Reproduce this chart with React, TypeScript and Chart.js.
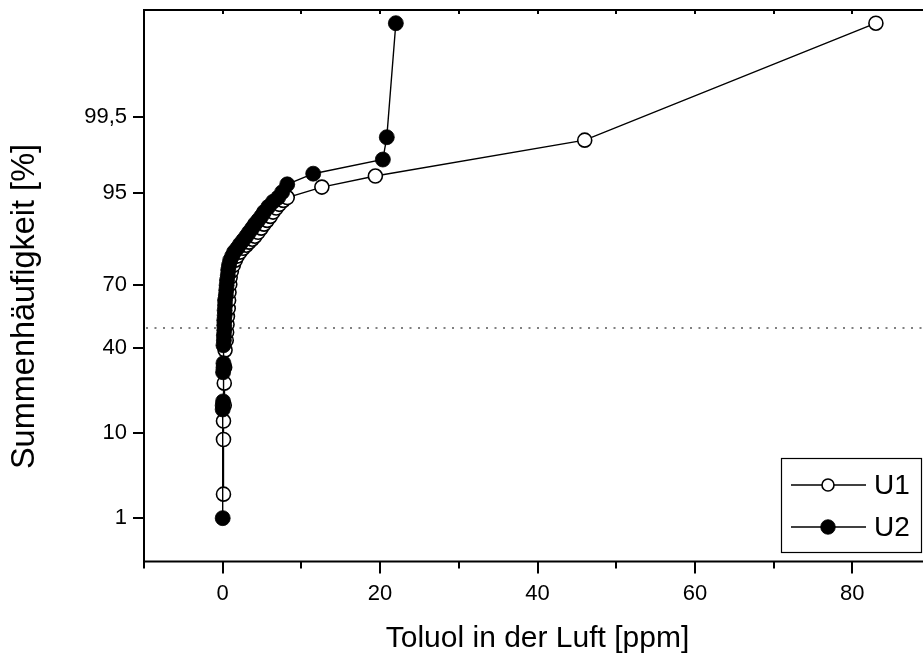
import React, { useEffect, useRef } from 'react';
import { Chart, registerables } from 'chart.js';

Chart.register(...registerables);

// ---- data ----
const u1Ppm = [
  0.1, 0.1, 0.1, 0.2, 0.2, 0.25, 0.3, 0.45, 0.5, 0.55, 0.6, 0.7, 0.75, 0.8, 0.9, 0.95,
  1.1, 1.35, 1.6, 1.85, 2.2, 2.6, 3.0, 3.35, 3.75, 4.1, 4.5, 4.9, 5.25, 5.65, 6.05, 6.4,
  6.8, 7.2, 7.7, 8.2, 12.6, 19.4, 46.0, 83.0,
];
const u1Pct = [
  2.1, 8.6, 12.7, 17.2, 24.9, 31.4, 39.2, 43.9, 47.8, 51.6, 55.4, 59.3, 63.1, 66.7, 70.2, 73.1,
  75.5, 77.7, 79.5, 80.9, 82.2, 83.4, 84.3, 85.2, 86.0, 86.8, 87.8, 88.8, 89.7, 90.5, 91.3, 92.1,
  92.8, 93.4, 94.0, 94.4, 95.7, 96.8, 98.9, 99.99,
];
const u2Ppm = [
  0.0, 0.0, 0.0, 0.05, 0.05, 0.1, 0.1, 0.1, 0.15, 0.15, 0.2, 0.2, 0.2, 0.25, 0.25, 0.3,
  0.3, 0.4, 0.45, 0.5, 0.55, 0.65, 0.7, 0.8, 0.95, 1.2, 1.45, 1.85, 2.2, 2.6, 3.0, 3.35,
  3.75, 4.1, 4.5, 4.9, 5.25, 5.8, 6.4, 7.05, 7.55, 8.2, 11.5, 20.35, 20.85, 22.0,
];
const u2Pct = [
  1.0, 15.9, 17.1, 18.4, 29.3, 31.2, 33.2, 41.5, 43.9, 46.3, 48.7, 51.2, 53.6, 56.0, 58.4, 60.8,
  63.1, 65.4, 67.6, 69.8, 71.9, 73.9, 75.9, 77.7, 79.5, 80.9, 82.2, 83.4, 84.6, 85.7, 86.8, 87.8,
  88.8, 89.7, 90.5, 91.3, 92.1, 93.0, 93.8, 94.4, 95.1, 96.0, 97.0, 98.0, 99.0, 99.99,
];
const seriesNames = ['U1', 'U2'];

const yTickPct = [1, 10, 40, 70, 95, 99.5];
const yTickLabels = ['1', '10', '40', '70', '95', '99,5'];
const xTickValues = [-10, 0, 10, 20, 30, 40, 50, 60, 70, 80, 90];
const xLabelledTicks = [0, 20, 40, 60, 80];
const X_MIN = -10;
const X_MAX = 90;
const Y_MIN_PCT = 0.2145;
const Y_MAX_PCT = 99.99478;
const REF_LINE_PCT = 50;
const xTitle = 'Toluol in der Luft [ppm]';
const yTitle = 'Summenhäufigkeit [%]';

// ---- layout constants ----
const CANVAS_W = 960;
const CANVAS_H = 657;
const PLOT_LEFT = 144;
const PLOT_TOP = 10;
const PLOT_RIGHT = 931;
const PLOT_BOTTOM = 561.5;
const FONT = "'Liberation Sans', Arial, sans-serif";

// inverse of the standard normal CDF (probability scale), Acklam's approximation
function probit(pct: number): number {
  const p = pct / 100;
  const a = [-3.969683028665376e1, 2.209460984245205e2, -2.759285104469687e2, 1.38357751867269e2, -3.066479806614716e1, 2.506628277459239];
  const b = [-5.447609879822406e1, 1.615858368580409e2, -1.556989798598866e2, 6.680131188771972e1, -1.328068155288572e1];
  const c = [-7.784894002430293e-3, -3.223964580411365e-1, -2.400758277161838, -2.549732539343734, 4.374664141464968, 2.938163982698783];
  const d = [7.784695709041462e-3, 3.224671290700398e-1, 2.445134137142996, 3.754408661907416];
  const plow = 0.02425;
  const phigh = 1 - plow;
  if (p < plow) {
    const q = Math.sqrt(-2 * Math.log(p));
    return (((((c[0] * q + c[1]) * q + c[2]) * q + c[3]) * q + c[4]) * q + c[5]) /
      ((((d[0] * q + d[1]) * q + d[2]) * q + d[3]) * q + 1);
  }
  if (p <= phigh) {
    const q = p - 0.5;
    const r = q * q;
    return ((((((a[0] * r + a[1]) * r + a[2]) * r + a[3]) * r + a[4]) * r + a[5]) * q) /
      (((((b[0] * r + b[1]) * r + b[2]) * r + b[3]) * r + b[4]) * r + 1);
  }
  const q = Math.sqrt(-2 * Math.log(1 - p));
  return -(((((c[0] * q + c[1]) * q + c[2]) * q + c[3]) * q + c[4]) * q + c[5]) /
    ((((d[0] * q + d[1]) * q + d[2]) * q + d[3]) * q + 1);
}

const framePlugin = {
  id: 'originFrame',
  beforeDatasetsDraw(chart: any) {
    const { ctx, chartArea, scales } = chart;
    const y = Math.round(scales.y.getPixelForValue(probit(REF_LINE_PCT)));
    ctx.save();
    ctx.strokeStyle = '#808080';
    ctx.lineWidth = 2;
    ctx.setLineDash([2, 6.5]);
    ctx.beginPath();
    ctx.moveTo(chartArea.left + 2, y);
    ctx.lineTo(chartArea.right, y);
    ctx.stroke();
    ctx.restore();
  },
  afterDraw(chart: any) {
    const { ctx, chartArea, scales } = chart;
    const { left, top, right, bottom } = chartArea;
    ctx.save();
    ctx.strokeStyle = '#000';
    ctx.lineWidth = 2;
    ctx.setLineDash([]);
    ctx.beginPath();
    ctx.moveTo(left, top - 1);
    ctx.lineTo(left, bottom + 1);
    ctx.moveTo(left - 1, top);
    ctx.lineTo(right, top);
    ctx.moveTo(left - 1, bottom);
    ctx.lineTo(right, bottom);
    ctx.moveTo(right, top);
    ctx.lineTo(right, bottom);
    ctx.stroke();

    // x ticks: outward at the bottom, inward at the top
    ctx.lineWidth = 2;
    ctx.beginPath();
    for (const v of xTickValues) {
      const px = Math.round(scales.x.getPixelForValue(v));
      const len = xLabelledTicks.includes(v) ? 12 : 7;
      ctx.moveTo(px, bottom);
      ctx.lineTo(px, bottom + len);
      ctx.moveTo(px, top);
      ctx.lineTo(px, top + 4);
    }
    // y ticks: outward at the left
    for (const p of yTickPct) {
      const py = Math.round(scales.y.getPixelForValue(probit(p)));
      ctx.moveTo(left, py);
      ctx.lineTo(left - 11, py);
    }
    ctx.stroke();

    // y axis title
    ctx.fillStyle = '#000';
    ctx.font = `32.5px ${FONT}`;
    ctx.textAlign = 'center';
    ctx.textBaseline = 'middle';
    ctx.translate(25, 306.5);
    ctx.rotate(-Math.PI / 2);
    ctx.fillText(yTitle, 0, 0);
    ctx.restore();

    // legend box
    ctx.save();
    const bx = 781.5, by = 458.5, bw = 140, bh = 94;
    ctx.strokeStyle = '#000';
    ctx.lineWidth = 1.2;
    ctx.strokeRect(bx, by, bw, bh);
    const rows = [485, 527];
    chart.data.datasets.forEach((ds: any, i: number) => {
      const ry = rows[i];
      ctx.lineWidth = ds.borderWidth;
      ctx.strokeStyle = ds.borderColor;
      ctx.beginPath();
      ctx.moveTo(791, ry);
      ctx.lineTo(866, ry);
      ctx.stroke();
      ctx.beginPath();
      ctx.arc(828, ry, i === 0 ? 6 : 7.3, 0, Math.PI * 2);
      ctx.fillStyle = ds.pointBackgroundColor;
      ctx.fill();
      ctx.lineWidth = ds.pointBorderWidth;
      ctx.strokeStyle = ds.pointBorderColor;
      ctx.stroke();
      ctx.fillStyle = '#000';
      ctx.font = `28px ${FONT}`;
      ctx.textAlign = 'left';
      ctx.textBaseline = 'middle';
      ctx.fillText(ds.label, 874, ry + 1);
    });
    ctx.restore();
  },
};

export default function App() {
  const ref = useRef<HTMLCanvasElement | null>(null);

  useEffect(() => {
    const canvas = ref.current;
    if (!canvas) return;
    const toPoints = (xs: number[], ps: number[]) => xs.map((x, i) => ({ x, y: probit(ps[i]) }));

    const chart = new Chart(canvas, {
      type: 'scatter',
      data: {
        datasets: [
          {
            label: seriesNames[0],
            data: toPoints(u1Ppm, u1Pct),
            showLine: true,
            borderColor: '#000',
            borderWidth: 1.4,
            pointRadius: 7,
            pointBackgroundColor: '#fff',
            pointBorderColor: '#000',
            pointBorderWidth: 1.6,
            order: 1,
          },
          {
            label: seriesNames[1],
            data: toPoints(u2Ppm, u2Pct),
            showLine: true,
            borderColor: '#000',
            borderWidth: 1.4,
            pointRadius: 7.5,
            pointBackgroundColor: '#000',
            pointBorderColor: '#000',
            pointBorderWidth: 0.8,
            order: 0,
          },
        ],
      },
      options: {
        animation: false,
        responsive: false,
        maintainAspectRatio: false,
        devicePixelRatio: 1,
        layout: { padding: { top: PLOT_TOP, right: CANVAS_W - PLOT_RIGHT, bottom: 0, left: 0 } },
        plugins: { legend: { display: false }, tooltip: { enabled: false } },
        scales: {
          x: {
            type: 'linear',
            min: X_MIN,
            max: X_MAX,
            grid: { display: false, drawTicks: false },
            border: { display: false },
            afterBuildTicks: (s: any) => {
              s.ticks = xTickValues.map((v) => ({ value: v }));
            },
            afterFit: (s: any) => {
              s.height = CANVAS_H - PLOT_BOTTOM;
              s.paddingLeft = 0;
              s.paddingRight = 0;
            },
            ticks: {
              autoSkip: false,
              maxRotation: 0,
              padding: 19,
              color: '#000',
              font: { family: FONT, size: 22 },
              callback: (v: any) => (xLabelledTicks.includes(Number(v)) ? String(v) : ''),
            },
            title: {
              display: true,
              text: xTitle,
              color: '#000',
              font: { family: FONT, size: 30 },
              padding: { top: 0, bottom: 0 },
            },
          },
          y: {
            type: 'linear',
            min: probit(Y_MIN_PCT),
            max: probit(Y_MAX_PCT),
            grid: { display: false, drawTicks: false },
            border: { display: false },
            afterBuildTicks: (s: any) => {
              s.ticks = yTickPct.map((p) => ({ value: probit(p) }));
            },
            afterFit: (s: any) => {
              s.width = PLOT_LEFT;
              s.paddingTop = 0;
              s.paddingBottom = 0;
            },
            ticks: {
              autoSkip: false,
              padding: 17,
              color: '#000',
              font: { family: FONT, size: 22 },
              callback: (_v: any, i: number) => yTickLabels[i],
            },
          },
        },
      },
      plugins: [framePlugin],
    });

    return () => chart.destroy();
  }, []);

  return (
    <div style={{ position: 'fixed', left: 0, top: 0, width: 923, height: 657, overflow: 'hidden', background: '#fff' }}>
      <canvas
        ref={ref}
        width={CANVAS_W}
        height={CANVAS_H}
        style={{ display: 'block', width: CANVAS_W, height: CANVAS_H }}
      />
    </div>
  );
}
